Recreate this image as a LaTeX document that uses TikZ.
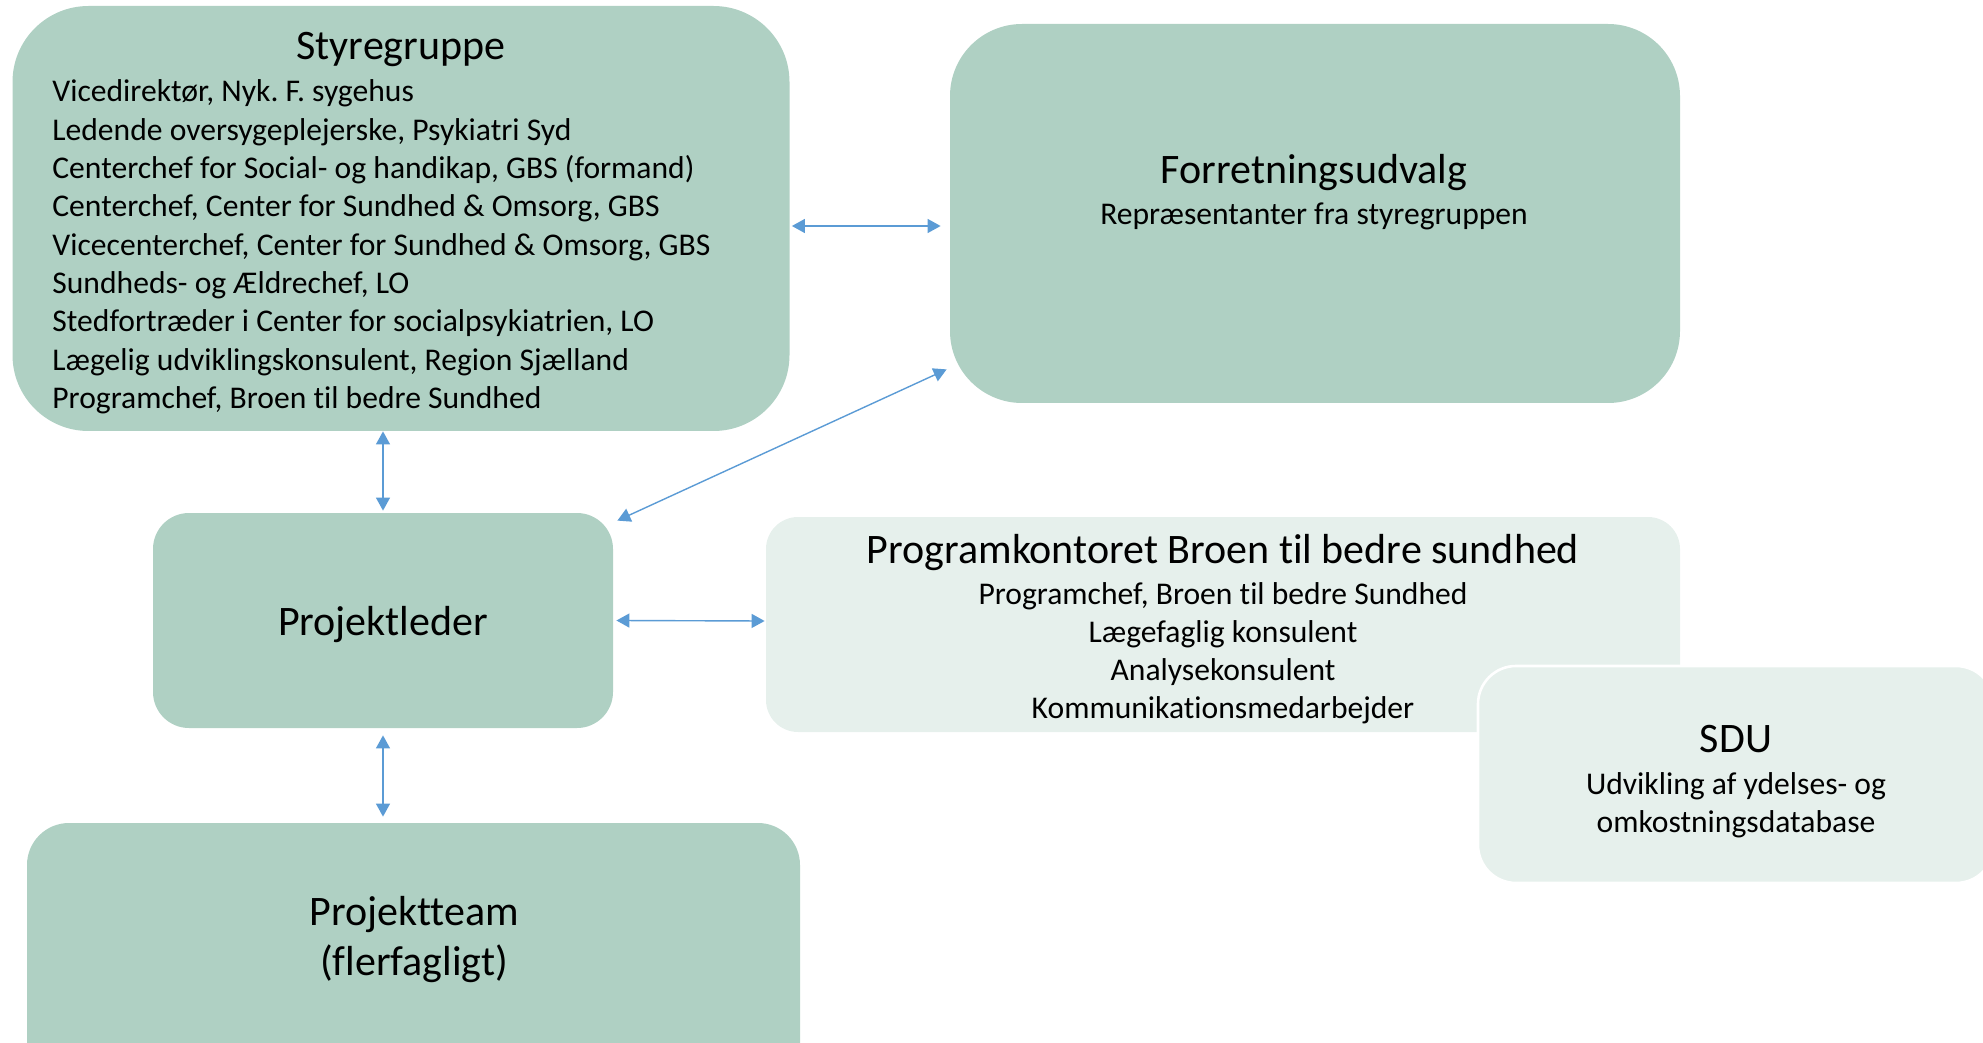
\documentclass[tikz,border=0pt]{standalone}
\usepackage{fontspec}
\setmainfont[Ligatures=NoCommon]{Carlito}
\frenchspacing
\usetikzlibrary{arrows.meta,calc}
\definecolor{boxgreen}{HTML}{AFD0C3}
\definecolor{boxlight}{HTML}{E6F0EC}
\definecolor{arrowblue}{HTML}{5B9BD5}
\tikzset{
  box/.style={fill=boxgreen, draw=none, inner sep=0pt},
  lightbox/.style={fill=boxlight, draw=none, inner sep=0pt},
  titletext/.style={font=\fontsize{21}{25}\selectfont, inner sep=0pt, anchor=base},
  bodytext/.style={font=\fontsize{15.8}{19}\selectfont, inner sep=0pt, anchor=base},
  arr/.style={draw=arrowblue, line width=0.7pt, {Triangle[length=6.5pt,width=7pt]}-{Triangle[length=6.5pt,width=7pt]}, arrowblue},
}
\begin{document}
\begin{tikzpicture}[x=0.5pt,y=-0.5pt]
\useasboundingbox (0,0) rectangle (1983,1043);
\clip (0,0) rectangle (1983,1043);
% boxes
\node[box, minimum width=388.5pt, minimum height=212.5pt, rounded corners=38pt] (sty) at (401,218.5) {};
\node[box, minimum width=365pt, minimum height=189.5pt, rounded corners=36pt] (fu) at (1315,213.5) {};
\node[box, minimum width=230pt, minimum height=107.5pt, rounded corners=18pt] (pl) at (383,620.5) {};
\node[box, minimum width=386.5pt, minimum height=138.5pt, rounded corners=21pt] (pt) at (413.5,961.5) {};
\node[lightbox, minimum width=457pt, minimum height=107.5pt, rounded corners=16pt] (pk) at (1223,624.5) {};
\node[lightbox, draw=white, line width=1.3pt, minimum width=258pt, minimum height=108.5pt, rounded corners=19pt] (sdu) at (1736,774.5) {};
% texts
\node[titletext] (styT) at (401,60) {Styregruppe};
\foreach \t [count=\i] in {{Vicedirektør, Nyk. F. sygehus},{Ledende oversygeplejerske, Psykiatri Syd},{Centerchef for Social- og handikap, GBS (formand)},{Centerchef, Center for Sundhed \& Omsorg, GBS},{Vicecenterchef, Center for Sundhed \& Omsorg, GBS},{Sundheds- og Ældrechef, LO},{Stedfortræder i Center for socialpsykiatrien, LO},{Lægelig udviklingskonsulent, Region Sjælland},{Programchef, Broen til bedre Sundhed}}
  \node[bodytext, anchor=base west] (styL\i) at (52,{63.5+38.35*\i}) {\t};
\node[titletext] (fuT) at (1314,184) {Forretningsudvalg};
\node[bodytext] (fuS) at (1314,225) {Repræsentanter fra styregruppen};
\node[titletext] (plT) at (383,635) {Projektleder};
\node[titletext] (ptT1) at (414,925) {Projektteam};
\node[titletext] (ptT2) at (414,975) {(flerfagligt)};
\node[titletext] (pkT) at (1223,563) {Programkontoret Broen til bedre sundhed};
\node[bodytext] (pk1) at (1223,604) {Programchef, Broen til bedre Sundhed};
\node[bodytext] (pk2) at (1223,642) {Lægefaglig konsulent};
\node[bodytext] (pk3) at (1223,680) {Analysekonsulent};
\node[bodytext] (pk4) at (1223,718) {Kommunikationsmedarbejder};
\node[titletext] (sduT) at (1736,752) {SDU};
\node[bodytext] (sdu1) at (1736,794) {Udvikling af ydelses- og};
\node[bodytext] (sdu2) at (1736,832) {omkostningsdatabase};
% connectors
\draw[arr] ([shift={(2,7.5)}]sty.east) -- ([shift={(-9,12.5)}]fu.west);
\draw[arr] (pl.north |- sty.south) -- ([yshift=1pt]pl.north);
\draw[arr] ([shift={(4,8)}]pl.north east) -- ([shift={(-3,-34)}]fu.south west);
\draw[arr] ([xshift=1.5pt]pl.east) -- ([shift={(-1,0.5)}]pl.east -| pk.west);
\draw[arr] ([yshift=-3.5pt]pl.south) -- ([yshift=3pt]pl.south |- pt.north);
\end{tikzpicture}
\end{document}
